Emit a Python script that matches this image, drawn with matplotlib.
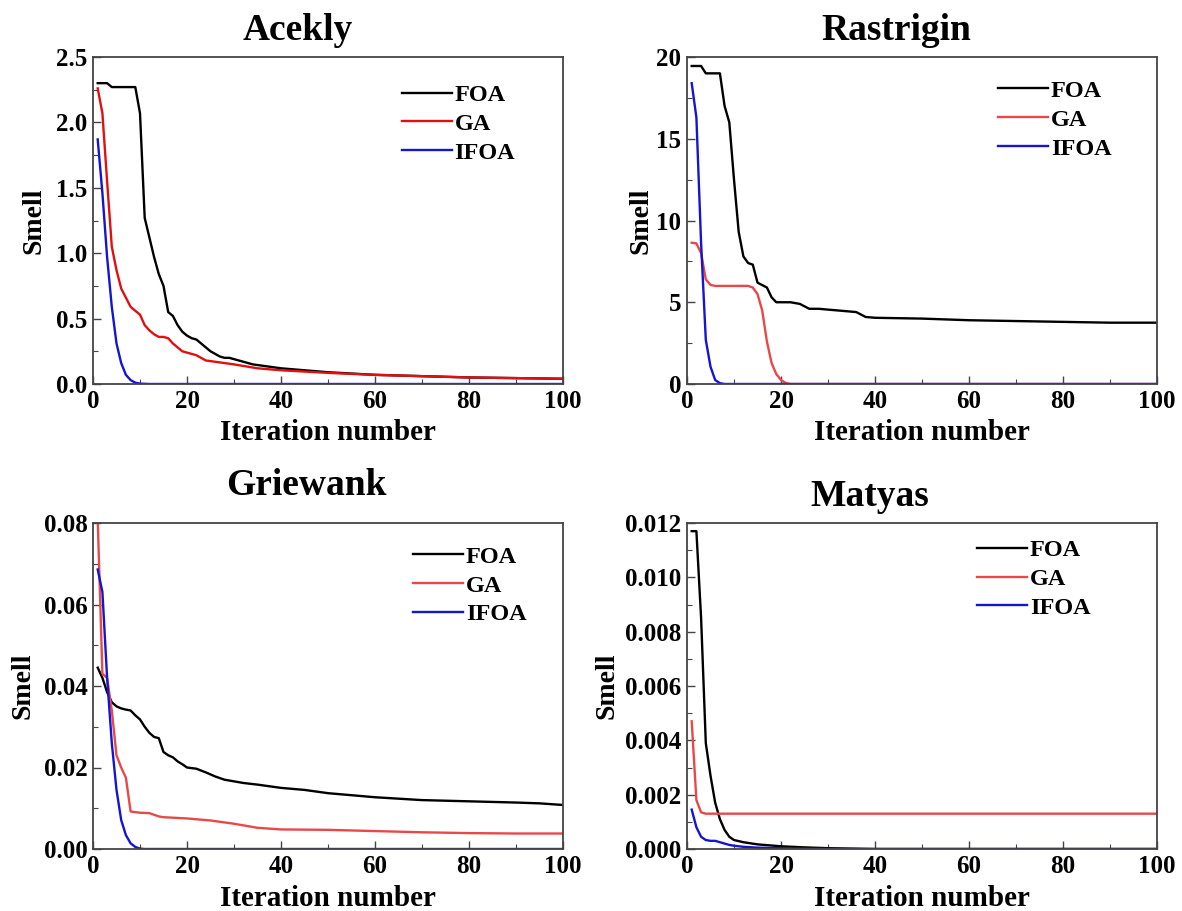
import numpy as np
import matplotlib
matplotlib.use('Agg')
import matplotlib.pyplot as plt
from matplotlib.ticker import MultipleLocator, FormatStrFormatter

plt.rcParams['font.family'] = ['Liberation Serif', 'DejaVu Serif']
plt.rcParams['font.weight'] = 'bold'
plt.rcParams['axes.labelweight'] = 'bold'
plt.rcParams['axes.titleweight'] = 'bold'

# iteration / best smell values for each test function

# Acekly
ackFoaIt = [1, 3, 4, 9, 10, 11, 12, 13, 14, 15, 16, 17, 18, 19, 20, 21, 22, 23, 24, 25, 26, 27, 28, 29, 30,
            32, 34, 36, 38, 40, 45, 50, 55, 60, 70, 80, 90, 100]
ackFoa = [2.30, 2.30, 2.27, 2.27, 2.07, 1.27, 1.12, 0.97, 0.84, 0.75, 0.55, 0.52, 0.45, 0.40, 0.37, 0.35,
          0.34, 0.31, 0.28, 0.25, 0.23, 0.21, 0.20, 0.20, 0.19, 0.17, 0.15, 0.14, 0.13, 0.12, 0.105, 0.09,
          0.08, 0.07, 0.06, 0.05, 0.045, 0.04]
ackGaIt = [1, 2, 3, 4, 5, 6, 7, 8, 9, 10, 11, 12, 13, 14, 15, 16, 17, 18, 19, 20, 22, 24, 26, 28, 30, 35,
           40, 50, 60, 70, 80, 90, 100]
ackGa = [2.26, 2.07, 1.55, 1.05, 0.87, 0.73, 0.66, 0.59, 0.56, 0.53, 0.45, 0.41, 0.38, 0.36, 0.36, 0.35,
         0.31, 0.28, 0.25, 0.24, 0.22, 0.18, 0.17, 0.16, 0.15, 0.12, 0.105, 0.085, 0.07, 0.06, 0.05, 0.045, 0.04]
ackIfoaIt = [1, 2, 3, 4, 5, 6, 7, 8, 9, 10, 12, 100]
ackIfoa = [1.87, 1.46, 0.97, 0.59, 0.31, 0.16, 0.07, 0.03, 0.01, 0.003, 0.0, 0.0]

# Rastrigin
rasFoaIt = [1, 3, 4, 7, 8, 9, 10, 11, 12, 13, 14, 15, 17, 18, 19, 22, 24, 26, 28, 32, 36, 38, 40, 50, 60,
            70, 80, 90, 100]
rasFoa = [19.45, 19.45, 19.0, 19.0, 17.0, 16.0, 12.5, 9.3, 7.8, 7.4, 7.3, 6.2, 5.9, 5.3, 5.0, 5.0, 4.9, 4.6,
          4.6, 4.5, 4.4, 4.1, 4.05, 4.0, 3.9, 3.85, 3.8, 3.75, 3.75]
rasGaIt = [1, 2, 3, 4, 5, 6, 13, 14, 15, 16, 17, 18, 19, 20, 21, 22, 100]
rasGa = [8.64, 8.6, 8.0, 6.4, 6.06, 6.0, 6.0, 5.9, 5.5, 4.5, 2.6, 1.28, 0.6, 0.25, 0.06, 0.0, 0.0]
rasIfoaIt = [1, 2, 3, 4, 5, 6, 7, 8, 100]
rasIfoa = [18.4, 16.3, 8.6, 2.7, 1.06, 0.24, 0.05, 0.0, 0.0]

# Griewank
griFoaIt = [1, 2, 3, 4, 5, 6, 7, 8, 9, 10, 11, 12, 13, 14, 15, 16, 17, 18, 19, 20, 22, 24, 26, 28, 30, 32,
            35, 40, 45, 50, 55, 60, 70, 80, 90, 95, 100]
griFoa = [0.0445, 0.042, 0.0385, 0.036, 0.035, 0.0345, 0.0342, 0.034, 0.0328, 0.0318, 0.030, 0.0285, 0.0275,
          0.0272, 0.0238, 0.0230, 0.0225, 0.0215, 0.0208, 0.0200, 0.0197, 0.0188, 0.0178, 0.0170, 0.0166,
          0.0162, 0.0158, 0.0150, 0.0145, 0.0137, 0.0132, 0.0127, 0.0120, 0.0117, 0.0114, 0.0112, 0.0108]
griGaIt = [1, 2, 3, 4, 5, 6, 7, 8, 10, 12, 14, 15, 20, 25, 30, 35, 40, 50, 60, 70, 80, 90, 100]
griGa = [0.081, 0.043, 0.042, 0.034, 0.023, 0.020, 0.0175, 0.0092, 0.0089, 0.0088, 0.0080, 0.0078, 0.0075,
         0.0070, 0.0062, 0.0052, 0.0048, 0.0047, 0.0044, 0.0041, 0.0039, 0.0038, 0.0038]
griIfoaIt = [1, 2, 3, 4, 5, 6, 7, 8, 9, 10, 11, 100]
griIfoa = [0.0686, 0.0631, 0.042, 0.026, 0.0145, 0.0071, 0.0034, 0.0014, 0.0005, 0.0001, 0.0, 0.0]

# Matyas
matFoaIt = [1, 2, 3, 4, 5, 6, 7, 8, 9, 10, 12, 15, 20, 25, 30, 40, 100]
matFoa = [0.0117, 0.0117, 0.0085, 0.0039, 0.0027, 0.0017, 0.0011, 0.0007, 0.00045, 0.00033, 0.00025,
          0.00017, 0.0001, 0.00006, 0.00003, 0.0, 0.0]
matGaIt = [1, 2, 3, 4, 100]
matGa = [0.0047, 0.0018, 0.00135, 0.0013, 0.0013]
matIfoaIt = [1, 2, 3, 4, 5, 6, 7, 8, 9, 10, 12, 15, 20, 30, 100]
matIfoa = [0.00145, 0.0008, 0.00045, 0.00033, 0.0003, 0.0003, 0.00025, 0.0002, 0.00015, 0.00012, 0.00008,
           0.00005, 0.00003, 0.0, 0.0]

W, H = 1182, 911

def pixAxes(fig, left, top, right, bottom):
    # axes box given in pixel coordinates (top-left origin)
    return fig.add_axes([left / W, (H - bottom) / H, (right - left) / W, (bottom - top) / H])

def drawPanel(ax, title, series, yMax, yMajor, yFmt, gaColor, legX, legY, titleX, titlePad=12, yPad=2):
    colors = ['black', gaColor, '#1414d2']
    names = ['FOA', 'GA', 'IFOA']
    for (it, val), c, n in zip(series, colors, names):
        ax.plot(it, val, color=c, lw=1.7, label=n)

    ax.set_xlim(0, 100)
    ax.set_ylim(0, yMax)
    ax.xaxis.set_major_locator(MultipleLocator(20))
    ax.xaxis.set_minor_locator(MultipleLocator(10))
    ax.yaxis.set_major_locator(MultipleLocator(yMajor))
    ax.yaxis.set_minor_locator(MultipleLocator(yMajor / 2))
    ax.yaxis.set_major_formatter(FormatStrFormatter(yFmt))
    ax.tick_params(which='both', direction='in', top=False, right=False, labelsize=18, pad=4,
                   color='#444444')
    ax.tick_params(which='major', length=6, width=1.0)
    ax.tick_params(which='minor', length=3.5, width=0.8)
    for s in ax.spines.values():
        s.set_color('#444444')
        s.set_linewidth(1.3)

    # titles sit a little left of the axes centre
    ax.set_title(title, fontsize=27, pad=titlePad, x=titleX)
    ax.set_xlabel('Iteration number', fontsize=21, labelpad=5)
    ax.set_ylabel('Smell', fontsize=20, labelpad=yPad)
    ax.legend(loc='upper left', bbox_to_anchor=(legX, legY), frameon=False, fontsize=17.5,
              handlelength=2.05, handletextpad=0.12, labelspacing=0.28, borderaxespad=0,
              borderpad=0)

fig = plt.figure(figsize=(W / 100, H / 100), dpi=100)

axA = pixAxes(fig, 93, 57, 563, 384)
drawPanel(axA, 'Acekly', [(ackFoaIt, ackFoa), (ackGaIt, ackGa), (ackIfoaIt, ackIfoa)],
          2.5, 0.5, '%.1f', '#e01010', 0.657, 0.917, 0.436, yPad=7)

axR = pixAxes(fig, 687, 57, 1157, 384)
drawPanel(axR, 'Rastrigin', [(rasFoaIt, rasFoa), (rasGaIt, rasGa), (rasIfoaIt, rasIfoa)],
          20, 5, '%d', '#e84848', 0.662, 0.93, 0.445)

axG = pixAxes(fig, 93, 523, 563, 849)
drawPanel(axG, 'Griewank', [(griFoaIt, griFoa), (griGaIt, griGa), (griIfoaIt, griIfoa)],
          0.08, 0.02, '%.2f', '#e84848', 0.681, 0.93, 0.455, titlePad=20, yPad=6)

axM = pixAxes(fig, 687, 523, 1157, 849)
drawPanel(axM, 'Matyas', [(matFoaIt, matFoa), (matGaIt, matGa), (matIfoaIt, matIfoa)],
          0.012, 0.002, '%.3f', '#e84848', 0.617, 0.95, 0.389, yPad=4)

fig.savefig('out.png', dpi=100)
